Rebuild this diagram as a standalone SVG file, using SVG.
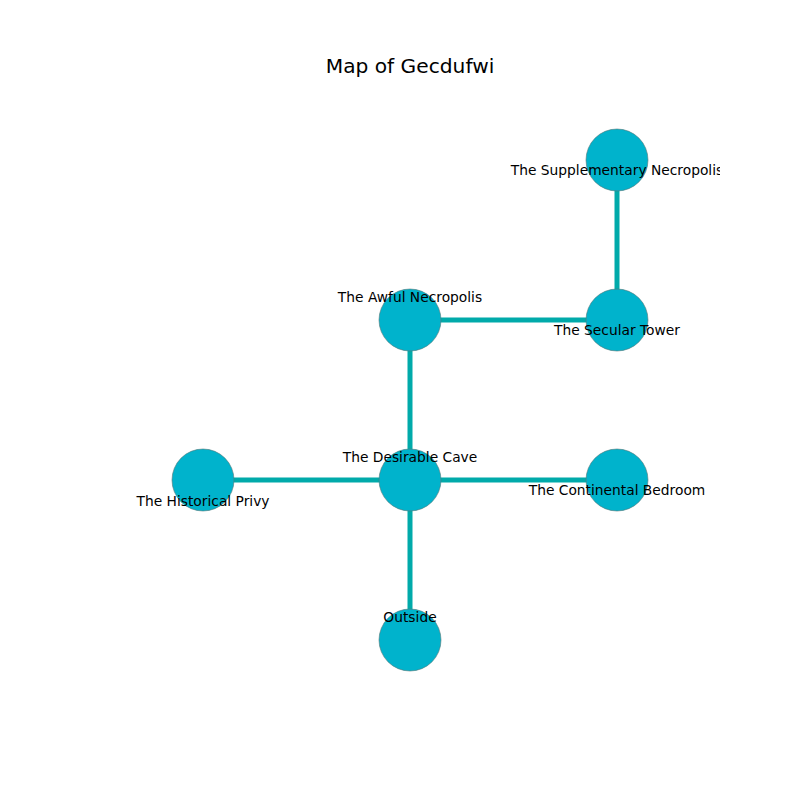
<svg xmlns="http://www.w3.org/2000/svg" width="800" height="800" viewBox="0 0 800 800">
<defs>
<style>
.edge{stroke:#00aaaa;stroke-width:5;fill:none}
.node{fill:#00b3cc;stroke:#557777;stroke-width:0.6}
.lbl{font-family:"DejaVu Sans",sans-serif;font-size:13.8px;fill:#000;text-anchor:middle}
.title{font-family:"DejaVu Sans",sans-serif;font-size:20.2px;fill:#000;text-anchor:middle}
</style>
<clipPath id="ax"><rect x="100" y="96" width="620" height="616"/></clipPath>
</defs>
<rect width="800" height="800" fill="#fff"/>
<text class="title" x="410" y="73">Map of Gecdufwi</text>
<g id="connectors">
<line class="edge" x1="617" y1="160" x2="617" y2="320"/>
<line class="edge" x1="410" y1="320" x2="617" y2="320"/>
<line class="edge" x1="410" y1="320" x2="410" y2="480"/>
<line class="edge" x1="203" y1="480" x2="617" y2="480"/>
<line class="edge" x1="410" y1="480" x2="410" y2="640"/>
</g>
<g id="node-supplementary"><circle class="node" cx="617" cy="160" r="31"/></g>
<g id="node-awful"><circle class="node" cx="410" cy="320" r="31"/></g>
<g id="node-secular"><circle class="node" cx="617" cy="320" r="31"/></g>
<g id="node-desirable"><circle class="node" cx="410" cy="480" r="31"/></g>
<g id="node-historical"><circle class="node" cx="203" cy="480" r="31"/></g>
<g id="node-continental"><circle class="node" cx="617" cy="480" r="31"/></g>
<g id="node-outside"><circle class="node" cx="410" cy="640" r="31"/></g>
<g id="labels" clip-path="url(#ax)">
<text class="lbl" x="617" y="175">The Supplementary Necropolis</text>
<text class="lbl" x="410" y="302">The Awful Necropolis</text>
<text class="lbl" x="617" y="335">The Secular Tower</text>
<text class="lbl" x="410" y="462">The Desirable Cave</text>
<text class="lbl" x="203" y="506">The Historical Privy</text>
<text class="lbl" x="617" y="495">The Continental Bedroom</text>
<text class="lbl" x="410" y="622">Outside</text>
</g>
</svg>
